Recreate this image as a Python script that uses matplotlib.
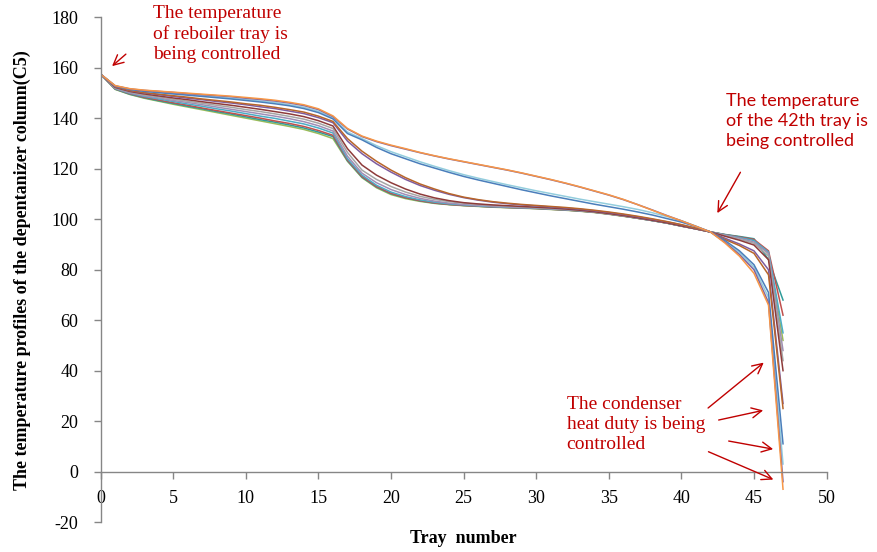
import matplotlib
matplotlib.use("Agg")
import matplotlib.pyplot as plt

plt.rcParams['font.family'] = 'serif'
plt.rcParams['font.serif'] = ['Liberation Serif', 'DejaVu Serif']
plt.rcParams['axes.unicode_minus'] = False

# tray numbers 0..47
trays = list(range(48))

# temperature profiles, one list per case
orange = [157.5, 153.0, 151.8, 151.2, 150.8, 150.4, 150.0, 149.6, 149.2, 148.8, 148.3, 147.8, 147.2, 146.4, 145.4, 143.8,
          141.0, 136.0, 133.0, 131.0, 129.4, 128.0, 126.5, 125.2, 124.0, 122.9, 121.8, 120.7, 119.6, 118.4, 117.1, 115.8,
          114.4, 112.9, 111.3, 109.7, 107.9, 105.8, 103.6, 101.4, 99.4, 97.2, 95.0, 90.6, 85.4, 78.6, 66.0, -7.0]
purple = [157.5, 152.9, 151.7, 151.1, 150.7, 150.3, 149.8, 149.4, 149.0, 148.6, 148.0, 147.5, 146.9, 146.1, 145.1, 143.5,
          140.7, 135.8, 132.8, 130.8, 129.2, 127.8, 126.4, 125.1, 123.9, 122.8, 121.7, 120.6, 119.5, 118.3, 117.0, 115.7,
          114.3, 112.8, 111.2, 109.6, 107.8, 105.8, 103.7, 101.5, 99.4, 97.2, 95.0, 90.9, 86.0, 80.0, 67.0, -4.0]
light_blue = [157.5, 152.9, 151.6, 150.9, 150.4, 149.9, 149.5, 149.0, 148.5, 148.0, 147.5, 146.9, 146.3, 145.4, 144.4, 142.8,
              140.2, 134.6, 132.0, 129.2, 126.8, 124.8, 122.8, 121.0, 119.3, 117.7, 116.3, 115.0, 113.7, 112.5, 111.3, 110.2,
              109.1, 108.0, 107.0, 106.0, 105.0, 103.9, 102.6, 101.1, 99.4, 97.3, 95.0, 91.0, 86.8, 81.0, 69.0, 3.0]
blue = [157.5, 152.8, 151.5, 150.7, 150.2, 149.7, 149.2, 148.7, 148.2, 147.7, 147.1, 146.5, 145.8, 145.0, 143.9, 142.3,
        139.8, 134.0, 131.5, 128.5, 126.0, 124.0, 122.0, 120.3, 118.6, 117.0, 115.6, 114.3, 113.0, 111.7, 110.5, 109.3,
        108.2, 107.1, 106.0, 105.0, 104.0, 102.9, 101.7, 100.3, 98.9, 97.1, 95.0, 91.6, 87.5, 82.0, 71.0, 11.0]
brown = [157.5, 152.6, 151.1, 150.2, 149.6, 149.0, 148.4, 147.7, 147.1, 146.5, 145.8, 145.2, 144.4, 143.5, 142.5, 140.9,
         138.8, 132.0, 127.0, 123.0, 119.5, 116.5, 114.0, 112.0, 110.2, 108.8, 107.8, 107.0, 106.4, 105.9, 105.5, 105.1,
         104.7, 104.2, 103.6, 102.9, 102.1, 101.2, 100.2, 99.1, 97.9, 96.5, 95.0, 92.0, 89.6, 86.5, 78.0, 25.0]
purple2 = [157.5, 152.5, 151.0, 150.1, 149.4, 148.7, 148.0, 147.4, 146.7, 146.1, 145.4, 144.6, 143.9, 142.9, 141.9, 140.3,
           138.3, 131.0, 126.0, 122.0, 118.7, 115.8, 113.4, 111.5, 109.9, 108.6, 107.6, 106.8, 106.2, 105.7, 105.3, 104.9,
           104.5, 104.0, 103.4, 102.7, 101.9, 101.0, 100.0, 99.0, 97.8, 96.4, 95.0, 92.5, 90.2, 87.5, 80.0, 27.0]
dark_red = [157.5, 152.3, 150.7, 149.7, 148.9, 148.1, 147.4, 146.6, 145.9, 145.2, 144.4, 143.6, 142.7, 141.8, 140.7, 139.1,
            137.0, 128.0, 121.5, 117.5, 114.5, 112.0, 110.0, 108.5, 107.4, 106.6, 106.1, 105.7, 105.4, 105.1, 104.8, 104.5,
            104.1, 103.6, 103.0, 102.3, 101.5, 100.6, 99.6, 98.6, 97.4, 96.2, 95.0, 93.3, 91.7, 89.8, 84.0, 40.0]
gray = [157.5, 152.1, 150.5, 149.3, 148.5, 147.6, 146.8, 146.0, 145.2, 144.4, 143.5, 142.7, 141.8, 140.8, 139.7, 138.1,
        136.0, 126.5, 119.5, 115.8, 113.0, 110.8, 109.1, 107.9, 107.0, 106.4, 105.9, 105.5, 105.2, 104.9, 104.6, 104.3,
        104.0, 103.5, 102.9, 102.2, 101.4, 100.6, 99.6, 98.6, 97.4, 96.2, 95.0, 93.5, 92.1, 90.5, 85.5, 44.0]
light_purple = [157.5, 152.0, 150.2, 149.0, 148.1, 147.1, 146.3, 145.4, 144.5, 143.6, 142.7, 141.8, 140.9, 139.9, 138.7, 137.1,
                135.0, 125.0, 118.3, 114.5, 111.8, 109.8, 108.3, 107.2, 106.4, 105.9, 105.5, 105.2, 104.9, 104.7, 104.5, 104.2,
                103.9, 103.5, 102.9, 102.2, 101.4, 100.5, 99.6, 98.6, 97.4, 96.2, 95.0, 93.7, 92.5, 91.0, 86.5, 48.0]
cyan = [157.5, 151.8, 150.0, 148.7, 147.7, 146.7, 145.7, 144.8, 143.8, 142.9, 141.9, 140.9, 140.0, 138.9, 137.8, 136.2,
        134.2, 124.0, 117.5, 113.5, 110.8, 109.0, 107.7, 106.8, 106.1, 105.7, 105.3, 105.0, 104.8, 104.6, 104.4, 104.1,
        103.8, 103.4, 102.9, 102.2, 101.4, 100.5, 99.5, 98.5, 97.4, 96.2, 95.0, 93.8, 92.8, 91.6, 87.0, 55.0]
red = [157.5, 151.7, 149.8, 148.4, 147.3, 146.2, 145.2, 144.1, 143.1, 142.1, 141.1, 140.1, 139.0, 138.0, 136.8, 135.2,
       133.3, 123.5, 117.0, 113.0, 110.3, 108.6, 107.4, 106.5, 105.9, 105.5, 105.2, 104.9, 104.7, 104.5, 104.3, 104.0,
       103.7, 103.3, 102.8, 102.1, 101.3, 100.4, 99.5, 98.5, 97.3, 96.2, 95.0, 93.9, 93.0, 92.0, 87.5, 62.0]
teal = [157.5, 151.6, 149.6, 148.2, 147.0, 145.9, 144.8, 143.8, 142.7, 141.7, 140.6, 139.5, 138.5, 137.4, 136.2, 134.6,
        132.8, 123.2, 116.7, 112.8, 110.1, 108.5, 107.3, 106.4, 105.9, 105.5, 105.2, 104.9, 104.7, 104.5, 104.3, 104.0,
        103.7, 103.3, 102.8, 102.1, 101.3, 100.4, 99.5, 98.5, 97.3, 96.2, 95.0, 94.0, 93.2, 92.3, 84.0, 68.0]
green = [157.5, 151.5, 149.5, 148.0, 146.8, 145.6, 144.5, 143.4, 142.3, 141.2, 140.1, 139.0, 137.9, 136.8, 135.6, 134.0,
         132.0, 123.0, 116.5, 112.5, 109.8, 108.2, 107.1, 106.3, 105.8, 105.4, 105.1, 104.8, 104.6, 104.4, 104.2, 103.9,
         103.6, 103.2, 102.7, 102.0, 101.2, 100.4, 99.5, 98.5, 97.3, 96.2, 95.0, 93.9, 93.0, 91.8, 86.5, 52.0]

# bottom of the stack first so the upper profiles sit on top
profiles = [
    (green, '#9BBB59'),
    (teal, '#2E9C9A'),
    (red, '#C0504D'),
    (cyan, '#4BACC6'),
    (light_purple, '#A08EB5'),
    (gray, '#A5A5A5'),
    (dark_red, '#8E3B3A'),
    (purple2, '#7E5CA0'),
    (brown, '#B8652A'),
    (light_blue, '#93CDDD'),
    (blue, '#4A7EBB'),
    (purple, '#8064A2'),
    (orange, '#F79646'),
]

red_txt = '#C00000'

fig = plt.figure(figsize=(8.77, 5.52), dpi=100)
ax = fig.add_axes([0.1148, 0.0543, 0.8277, 0.914])

for vals, col in profiles:
    ax.plot(trays, vals, color=col, lw=1.1)

ax.set_xlim(0, 50)
ax.set_ylim(-20, 180)
ax.set_xticks(range(0, 51, 5))
ax.set_yticks(range(-20, 181, 20))

ax.spines['top'].set_visible(False)
ax.spines['right'].set_visible(False)
ax.spines['bottom'].set_position(('data', 0))
for s in ('left', 'bottom'):
    ax.spines[s].set_color('#868686')
    ax.spines[s].set_linewidth(1.0)
ax.tick_params(axis='both', colors='#868686', labelcolor='black', length=5, width=1.0,
               labelsize=13)
ax.tick_params(axis='y', pad=11)
ax.tick_params(axis='x', pad=8)

ax.set_ylabel('The temperature profiles of the depentanizer column(C5)', fontsize=13,
              fontweight='bold')
ax.yaxis.set_label_coords(-0.096, 0.5)
ax.set_xlabel('Tray  number', fontsize=13, fontweight='bold', va='top')
ax.xaxis.set_label_coords(0.499, -0.016)

arrow = dict(arrowstyle='->', color=red_txt, lw=1.0, mutation_scale=18)

# reboiler tray note
ax.text(3.6, 185.0, 'The temperature\nof reboiler tray is\nbeing controlled', color=red_txt,
        fontsize=14, va='top', ha='left', linespacing=1.22, clip_on=False)
ax.annotate('', xy=(0.64, 160.0), xytext=(1.88, 166.2), arrowprops=arrow, annotation_clip=False)

# 42th tray note (sans in the original)
ax.text(43.1, 150.0, 'The temperature\nof the 42th tray is\nbeing controlled', color=red_txt,
        fontsize=13, family='Lato', va='top', ha='left', linespacing=1.3, clip_on=False)
ax.annotate('', xy=(42.38, 101.5), xytext=(44.16, 119.6), arrowprops=arrow, annotation_clip=False)

# condenser note
ax.text(32.1, 30.0, 'The condenser\nheat duty is being\ncontrolled', color=red_txt,
        fontsize=14, va='top', ha='left', linespacing=1.22)
cond_tails = [(41.69, 24.5), (42.38, 20.2), (43.07, 12.3), (41.69, 8.3)]
cond_heads = [(45.82, 43.9), (45.82, 24.5), (46.51, 8.7), (46.51, -3.6)]
for tail, head in zip(cond_tails, cond_heads):
    ax.annotate('', xy=head, xytext=tail, arrowprops=arrow)

fig.savefig('out.png', dpi=100)
